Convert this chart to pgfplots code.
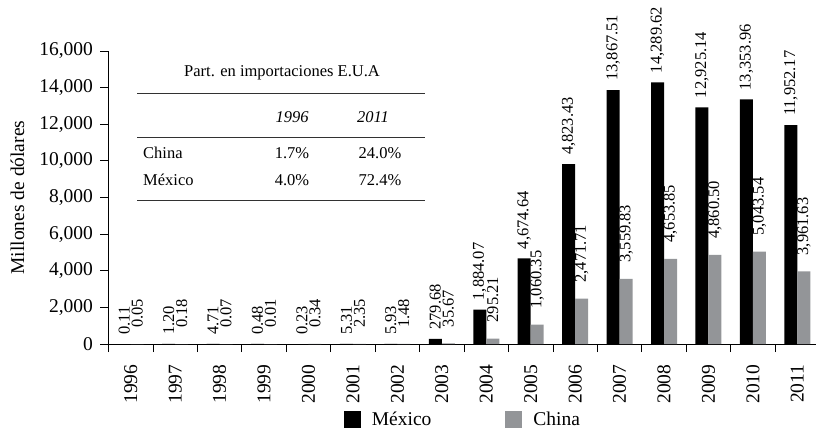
\documentclass[border=0pt]{standalone}
\usepackage{pgfplots}
\pgfplotsset{compat=1.18}
\usepackage{pgfplotstable}
\usepackage{fontspec}
\setmainfont{Liberation Serif}
\definecolor{chgray}{RGB}{147,149,152}
\definecolor{tabline}{RGB}{50,50,50}

\pgfplotstableread{
x mex mexlab chn chnlab
0 0.11 0.11 0.05 0.05
1 1.20 1.20 0.18 0.18
2 4.71 4.71 0.07 0.07
3 0.48 0.48 0.01 0.01
4 0.23 0.23 0.34 0.34
5 5.31 5.31 2.35 2.35
6 5.93 5.93 1.48 1.48
7 279.68 279.68 35.67 35.67
8 1884.07 1,884.07 295.21 295.21
9 4674.64 4,674.64 1060.35 1,060.35
10 9823.43 4,823.43 2471.71 2,471.71
11 13867.51 13,867.51 3559.83 3,559.83
12 14289.62 14,289.62 4653.85 4,653.85
13 12925.14 12,925.14 4860.50 4,860.50
14 13353.96 13,353.96 5043.54 5,043.54
15 11952.17 11,952.17 3961.63 3,961.63
}\datatab

\newcommand{\bigf}{\fontsize{19.5}{21}\selectfont}
\newcommand{\tabf}{\fontsize{16.5}{18}\selectfont}

\begin{document}
\begin{tikzpicture}
\begin{axis}[
  scale only axis, width=707.5pt, height=293pt,
  at={(0pt,0pt)}, anchor=south west,
  xmin=-0.5, xmax=15.42, ymin=0, ymax=16000,
  ybar=0pt, bar width=13pt,
  clip=false,
  axis x line*=bottom, axis y line*=left,
  axis line style={line width=0.8pt},
  tick align=outside, major tick length=8pt, minor tick length=8pt,
  xtick={0,...,15},
  xticklabels={1996,1997,1998,1999,2000,2001,2002,2003,2004,2005,2006,2007,2008,2009,2010,2011},
  minor xtick={-0.5,0.5,...,15.5},
  every major x tick/.style={draw=none},
  every minor x tick/.style={black, line width=0.8pt},
  every major y tick/.style={black, line width=0.8pt},
  xtick pos=bottom, ytick pos=left,
  xticklabel style={rotate=90, anchor=east, font=\bigf},
  xticklabel shift=9pt,
  ytick={0,2000,...,16000},
  scaled y ticks=false,
  /pgf/number format/assume math mode=true,
  yticklabel style={font=\bigf, /pgf/number format/.cd, fixed, 1000 sep={,}},
  yticklabel shift=4pt,
  ylabel={Millones de dólares},
  ylabel style={at={(axis description cs:-0.1286,0.5)}, anchor=center, rotate=0, font=\bigf},
  point meta=explicit symbolic,
  nodes near coords,
  every node near coord/.append style={rotate=90, anchor=west, font=\fontsize{16.5}{17}\selectfont, inner ysep=0pt},
  legend style={at={(axis description cs:0.501,-0.256)}, anchor=center, draw=none, fill=none,
    legend columns=2, font=\bigf,
    /tikz/every odd column/.append style={column sep=9pt},
    /tikz/every even column/.append style={column sep=72pt}},
]
\addplot[fill=black, draw=none,
  every node near coord/.append style={inner xsep=9pt},
  legend image code/.code={\fill[black] (0pt,-8.5pt) rectangle (17pt,8.5pt);}]
  table[x=x, y=mex, meta=mexlab] {\datatab};
\addlegendentry{México}
\addplot[fill=chgray, draw=none,
  every node near coord/.append style={inner xsep=16pt},
  legend image code/.code={\fill[chgray] (0pt,-8.5pt) rectangle (17pt,8.5pt);}]
  table[x=x, y=chn, meta=chnlab] {\datatab};
\addlegendentry{China}
\end{axis}
% inset table
\node[font=\tabf] at (173.5pt,271pt) {Part. en importaciones E.U.A};
\draw[tabline, line width=0.8pt] (28.5pt,251pt) -- (316.5pt,251pt);
\node[font=\tabf\itshape] at (183.5pt,227pt) {1996};
\node[font=\tabf\itshape] at (264.5pt,227pt) {2011};
\draw[tabline, line width=0.8pt] (28.5pt,207pt) -- (316.5pt,207pt);
\node[font=\tabf, anchor=west, inner sep=0pt] at (34.5pt,191pt) {China};
\node[font=\tabf] at (183.5pt,191pt) {1.7\%};
\node[font=\tabf] at (271.5pt,191pt) {24.0\%};
\node[font=\tabf, anchor=west, inner sep=0pt] at (34.5pt,164pt) {México};
\node[font=\tabf] at (183.5pt,164pt) {4.0\%};
\node[font=\tabf] at (271.5pt,164pt) {72.4\%};
\draw[tabline, line width=0.8pt] (28.5pt,144pt) -- (316.5pt,144pt);
\pgfresetboundingbox
\useasboundingbox (-108.5pt,-88pt) rectangle (707.5pt,344pt);
\end{tikzpicture}
\end{document}
